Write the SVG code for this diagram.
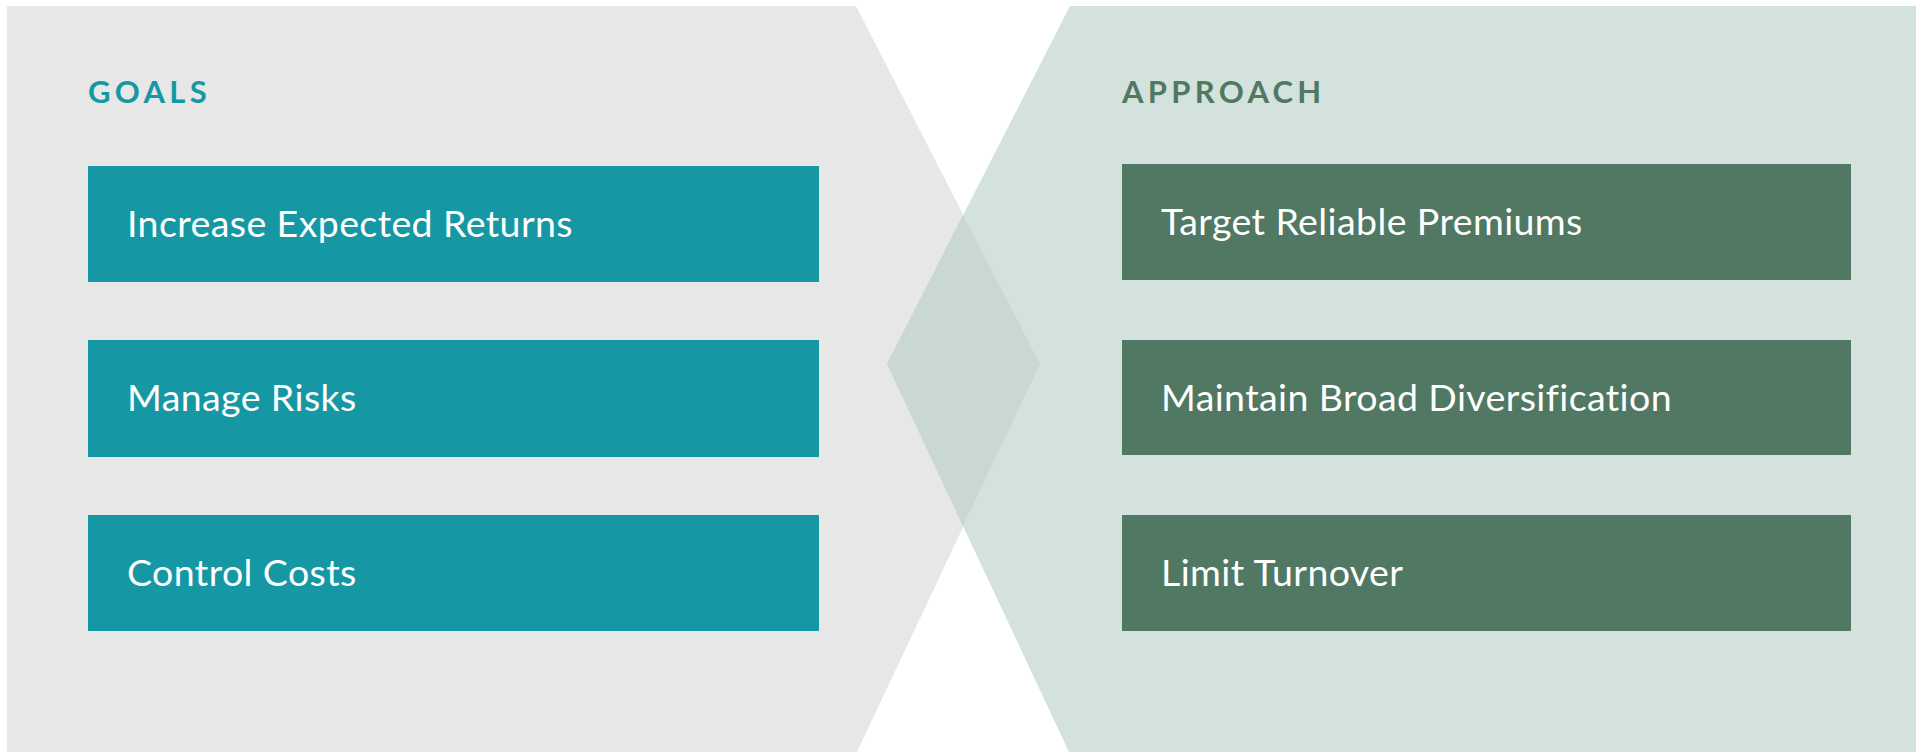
<svg xmlns="http://www.w3.org/2000/svg" width="1925" height="753" viewBox="0 0 1925 753">
<style>
.goal{fill:#1598a4}
.appr{fill:#507862}
.lbl{font-family:Lato,"Open Sans","Liberation Sans",sans-serif;font-size:37.5px;letter-spacing:0.4px;fill:#ffffff}
.hdr{font-family:Lato,"Open Sans","Liberation Sans",sans-serif;font-size:31px;font-weight:bold;letter-spacing:4.3px}
</style>
<rect width="1925" height="753" fill="#ffffff"/>
<g id="background">
<polygon points="7,6 856,6 1040,364 857,752 7,752" fill="#e7e7e7"/>
<polygon points="1070,6 1916,6 1916,752 1069,752 887,364" fill="#d3e2dc"/>
<polygon points="887,364 963,215 1040,364 963,526" fill="#c9d8d1"/>
</g>
<g id="goals-header"><text class="hdr" x="88" y="103" fill="#1598a4">GOALS</text></g>
<g id="approach-header"><text class="hdr" x="1122" y="103" fill="#507862">APPROACH</text></g>
<g id="goal1"><rect class="goal" x="88" y="166" width="731" height="116"/><text class="lbl" x="127" y="237">Increase Expected Returns</text></g>
<g id="goal2"><rect class="goal" x="88" y="340" width="731" height="117"/><text class="lbl" x="127" y="411">Manage Risks</text></g>
<g id="goal3"><rect class="goal" x="88" y="515" width="731" height="116"/><text class="lbl" x="127" y="586">Control Costs</text></g>
<g id="appr1"><rect class="appr" x="1122" y="164" width="729" height="116"/><text class="lbl" x="1161" y="235">Target Reliable Premiums</text></g>
<g id="appr2"><rect class="appr" x="1122" y="340" width="729" height="115"/><text class="lbl" x="1161" y="411">Maintain Broad Diversification</text></g>
<g id="appr3"><rect class="appr" x="1122" y="515" width="729" height="116"/><text class="lbl" x="1161" y="586">Limit Turnover</text></g>
<g id="connectors"></g>
</svg>
